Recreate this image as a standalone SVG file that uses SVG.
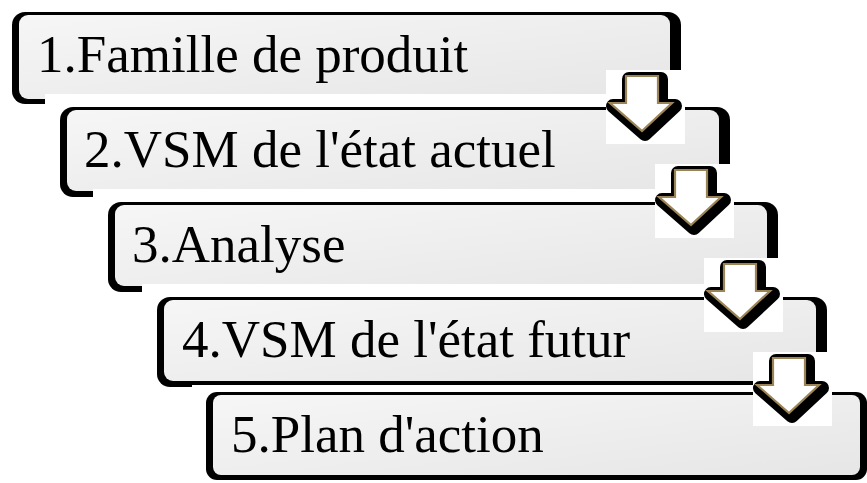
<svg xmlns="http://www.w3.org/2000/svg" xmlns:xlink="http://www.w3.org/1999/xlink" width="867" height="483" viewBox="0 0 867 483">
  <style>
    .frame { fill: #000000; }
    .face { fill: url(#faceGrad); }
    .backing { fill: #ffffff; }
    .label { font-family: "Liberation Serif", "Times New Roman", serif; font-size: 53px; fill: #000000; }
    .arrow-bg { fill: #ffffff; }
    .arrow-shadow { fill: #000000; stroke: #000000; stroke-width: 14; stroke-linejoin: round; }
    .arrow-face { fill: #ffffff; stroke: #9b8456; stroke-width: 2.2; stroke-linejoin: miter; }
  </style>
  <defs>
    <linearGradient id="faceGrad" x1="0" y1="0" x2="1" y2="1">
      <stop offset="0" stop-color="#f6f6f6"/>
      <stop offset="0.5" stop-color="#eeeeee"/>
      <stop offset="1" stop-color="#e6e6e6"/>
    </linearGradient>
    <!-- down arrow with white backing tile and heavy black shadow -->
    <g id="downArrow">
      <rect class="arrow-bg" x="0" y="0" width="79" height="74"/>
      <path class="arrow-shadow" transform="translate(3,3)" d="M20,6 H52 V33 H66 L36,61 L4,33 H20 Z"/>
      <path class="arrow-face" d="M20,6 H52 V33 H66 L36,61 L4,33 H20 Z"/>
    </g>
  </defs>

  <rect x="0" y="0" width="867" height="483" fill="#ffffff"/>

  <!-- step 1 -->
  <g id="step1">
    <rect class="frame" x="12" y="12" width="669" height="92" rx="13"/>
    <rect class="face" x="19" y="15" width="651" height="84" rx="9"/>
    <text class="label" x="37" y="72">1.Famille de produit</text>
  </g>

  <!-- step 2 -->
  <g id="step2">
    <rect class="backing" x="45" y="94" width="700" height="115"/>
    <rect class="frame" x="60" y="107" width="670" height="90" rx="13"/>
    <rect class="face" x="67" y="110" width="652" height="81" rx="9"/>
    <text class="label" x="84" y="167">2.VSM de l'état actuel</text>
  </g>

  <!-- step 3 -->
  <g id="step3">
    <rect class="backing" x="93" y="189" width="700" height="115"/>
    <rect class="frame" x="108" y="202" width="670" height="90" rx="13"/>
    <rect class="face" x="115" y="205" width="652" height="81" rx="9"/>
    <text class="label" x="132" y="262">3.Analyse</text>
  </g>

  <!-- step 4 -->
  <g id="step4">
    <rect class="backing" x="142" y="284" width="700" height="115"/>
    <rect class="frame" x="157" y="297" width="670" height="90" rx="13"/>
    <rect class="face" x="164" y="300" width="652" height="81" rx="9"/>
    <text class="label" x="182" y="357">4.VSM de l'état futur</text>
  </g>

  <!-- step 5 -->
  <g id="step5">
    <rect class="backing" x="192" y="385" width="675" height="98"/>
    <rect class="frame" x="206" y="392" width="661" height="88" rx="11"/>
    <rect class="face" x="213" y="395" width="647" height="80" rx="8"/>
    <text class="label" x="231" y="452">5.Plan d'action</text>
  </g>

  <!-- connectors between steps -->
  <g id="connectors">
    <use xlink:href="#downArrow" href="#downArrow" x="606" y="70"/>
    <use xlink:href="#downArrow" href="#downArrow" x="655" y="164"/>
    <use xlink:href="#downArrow" href="#downArrow" x="704" y="258"/>
    <use xlink:href="#downArrow" href="#downArrow" x="753" y="352"/>
  </g>
</svg>
